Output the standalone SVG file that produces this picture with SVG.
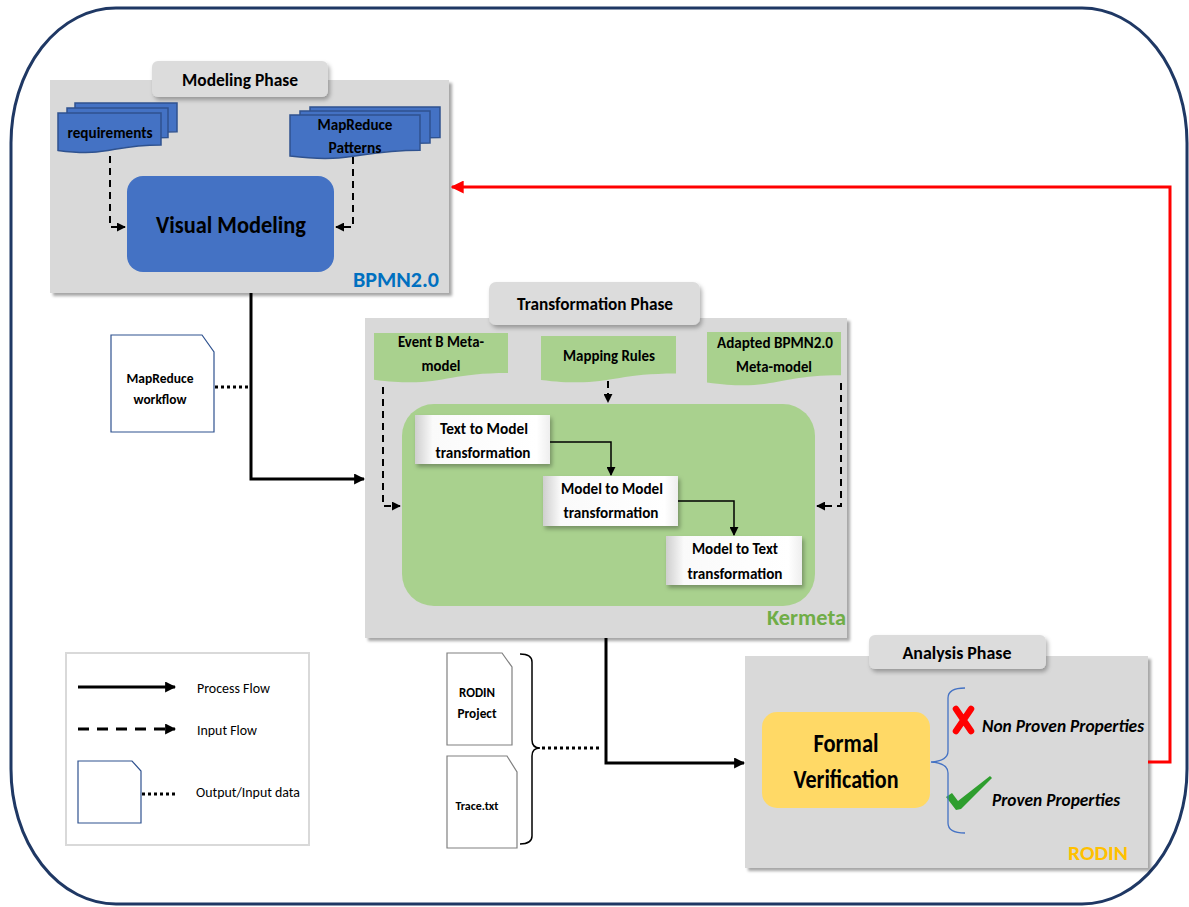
<svg xmlns="http://www.w3.org/2000/svg" width="1189" height="907" viewBox="0 0 1189 907">
<defs>
<style>
text{font-family:Carlito,"Liberation Sans",Arial,sans-serif;fill:#000}
.b{font-weight:bold}
.c{text-anchor:middle}
.phase{fill:#d9d9d9}
.tab{fill:#dcdcdc}
.proc{stroke:#000;stroke-width:3;fill:none}
.inp{stroke:#000;stroke-width:2;fill:none;stroke-dasharray:7 5}
.thin{stroke:#000;stroke-width:1.5;fill:none}
.dot{stroke:#000;stroke-width:3;fill:none;stroke-dasharray:3 3}
.bdoc{fill:#4472c4;stroke:#2f528f;stroke-width:1.5}
.gdoc{fill:#a9d18e}
.file{fill:#fff;stroke:#2f528f;stroke-width:1.2}
.gfile{fill:#fff;stroke:#808080;stroke-width:1.2}
</style>
<filter id="sh" x="-10%" y="-10%" width="120%" height="120%">
<feDropShadow dx="3" dy="3" stdDeviation="1.5" flood-color="#000" flood-opacity="0.35"/>
</filter>
<filter id="sh2" x="-10%" y="-10%" width="120%" height="130%">
<feDropShadow dx="2" dy="3" stdDeviation="2" flood-color="#000" flood-opacity="0.3"/>
</filter>
<linearGradient id="bevel" x1="0" y1="0" x2="1" y2="0">
<stop offset="0" stop-color="#cfcfcf"/>
<stop offset="0.13" stop-color="#fafafa"/>
<stop offset="0.9" stop-color="#ffffff"/>
<stop offset="1" stop-color="#eeeeee"/>
</linearGradient>
<marker id="ah" viewBox="0 0 10 10" refX="9" refY="5" markerWidth="11" markerHeight="11" markerUnits="userSpaceOnUse" orient="auto">
<path d="M0,0 L10,5 L0,10 Z" fill="#000"/>
</marker>
<marker id="ahs" viewBox="0 0 10 10" refX="9" refY="5" markerWidth="9" markerHeight="9" markerUnits="userSpaceOnUse" orient="auto">
<path d="M0,0 L10,5 L0,10 Z" fill="#000"/>
</marker>
<marker id="ahr" viewBox="0 0 10 10" refX="9" refY="5" markerWidth="13" markerHeight="13" markerUnits="userSpaceOnUse" orient="auto">
<path d="M0,0 L10,5 L0,10 Z" fill="#ff0000"/>
</marker>
</defs>

<rect x="11" y="8" width="1176" height="896" rx="105" ry="135" fill="#fff" stroke="#1f3864" stroke-width="3"/>

<!-- Modeling Phase -->
<g id="modeling-phase">
<rect class="phase" x="50" y="80" width="399" height="213" filter="url(#sh)"/>
<rect class="tab" x="152" y="61" width="176" height="36" rx="6" filter="url(#sh2)"/>
<text class="b c" x="240" y="86" font-size="19" textLength="116" lengthAdjust="spacingAndGlyphs">Modeling Phase</text>
<text class="b" x="439" y="287" font-size="22" text-anchor="end" style="fill:#0070c0" textLength="86" lengthAdjust="spacingAndGlyphs">BPMN2.0</text>
</g>

<g id="requirements">
<path class="bdoc" d="M75,103 H177 V131.8 C126,131.8 126,142.9 75,136.6 Z"/>
<path class="bdoc" d="M67,108 H168 V137.6 C117.5,137.6 117.5,149 67,142.6 Z"/>
<path class="bdoc" d="M58,113 H161 V145 C109.5,145 109.5,157.3 58,150.4 Z"/>
<text class="b c" x="110" y="138" font-size="15" textLength="85" lengthAdjust="spacingAndGlyphs">requirements</text>
</g>

<g id="mapreduce-patterns">
<path class="bdoc" d="M310,107 H440 V137.4 C375,137.4 375,149 310,142.5 Z"/>
<path class="bdoc" d="M300,111 H430 V143 C365,143 365,155.3 300,148.4 Z"/>
<path class="bdoc" d="M290,115 H420 V150.2 C355,150.2 355,163.7 290,156.1 Z"/>
<text class="b c" x="355" y="130" font-size="15" textLength="75" lengthAdjust="spacingAndGlyphs">MapReduce</text>
<text class="b c" x="355" y="153" font-size="15" textLength="53" lengthAdjust="spacingAndGlyphs">Patterns</text>
</g>

<g id="visual-modeling">
<rect x="127" y="176" width="207" height="96" rx="16" fill="#4472c4"/>
<text class="b c" x="231" y="233" font-size="25" textLength="150" lengthAdjust="spacingAndGlyphs">Visual Modeling</text>
</g>

<!-- Transformation Phase -->
<g id="transformation-phase">
<rect class="phase" x="365" y="318" width="482" height="320" filter="url(#sh)"/>
<rect class="tab" x="489" y="282" width="211" height="43" rx="7" filter="url(#sh2)"/>
<text class="b c" x="595" y="310" font-size="19" textLength="156" lengthAdjust="spacingAndGlyphs">Transformation Phase</text>
<rect x="402" y="404" width="413" height="202" rx="32" fill="#a9d18e"/>
<text class="b" x="846" y="625" font-size="23" text-anchor="end" style="fill:#70ad47" textLength="79" lengthAdjust="spacingAndGlyphs">Kermeta</text>
</g>

<g id="eventb-metamodel">
<path class="gdoc" d="M374,333 H508 V373 C441,373 441,388.4 374,379.7 Z"/>
<text class="b c" x="441" y="347" font-size="15" textLength="86" lengthAdjust="spacingAndGlyphs">Event B Meta-</text>
<text class="b c" x="441" y="371" font-size="15" textLength="39" lengthAdjust="spacingAndGlyphs">model</text>
</g>

<g id="mapping-rules">
<path class="gdoc" d="M541,336 H676 V373.6 C608.5,373.6 608.5,388 541,379.9 Z"/>
<text class="b c" x="609" y="361" font-size="15" textLength="92" lengthAdjust="spacingAndGlyphs">Mapping Rules</text>
</g>

<g id="adapted-bpmn-metamodel">
<path class="gdoc" d="M707,332 H841 V375.2 C774,375.2 774,391.8 707,382.4 Z"/>
<text class="b c" x="775" y="348" font-size="15" textLength="116" lengthAdjust="spacingAndGlyphs">Adapted BPMN2.0</text>
<text class="b c" x="774" y="372" font-size="15" textLength="76" lengthAdjust="spacingAndGlyphs">Meta-model</text>
</g>

<g id="text-to-model">
<rect x="415" y="415" width="135" height="49" fill="url(#bevel)" filter="url(#sh2)"/>
<text class="b c" x="484" y="434" font-size="15" textLength="88" lengthAdjust="spacingAndGlyphs">Text to Model</text>
<text class="b c" x="483" y="458" font-size="15" textLength="95" lengthAdjust="spacingAndGlyphs">transformation</text>
</g>

<g id="model-to-model">
<rect x="543" y="476" width="135" height="50" fill="url(#bevel)" filter="url(#sh2)"/>
<text class="b c" x="612" y="494" font-size="15" textLength="102" lengthAdjust="spacingAndGlyphs">Model to Model</text>
<text class="b c" x="611" y="518" font-size="15" textLength="95" lengthAdjust="spacingAndGlyphs">transformation</text>
</g>

<g id="model-to-text">
<rect x="666" y="536" width="136" height="49" fill="url(#bevel)" filter="url(#sh2)"/>
<text class="b c" x="735" y="554" font-size="15" textLength="86" lengthAdjust="spacingAndGlyphs">Model to Text</text>
<text class="b c" x="735" y="579" font-size="15" textLength="95" lengthAdjust="spacingAndGlyphs">transformation</text>
</g>

<!-- MapReduce workflow -->
<g id="mapreduce-workflow">
<path class="file" d="M111,335 H202 L214,352 V432 H111 Z"/>
<text class="b c" x="160" y="383" font-size="13" textLength="67" lengthAdjust="spacingAndGlyphs">MapReduce</text>
<text class="b c" x="160" y="404" font-size="13" textLength="53" lengthAdjust="spacingAndGlyphs">workflow</text>
</g>

<!-- Legend -->
<g id="legend">
<rect x="66" y="653" width="243" height="192" fill="none" stroke="#d9d9d9" stroke-width="2"/>
<line class="proc" x1="78" y1="687" x2="175" y2="687" marker-end="url(#ah)"/>
<text x="197" y="693" font-size="14" textLength="73" lengthAdjust="spacingAndGlyphs">Process Flow</text>
<line class="proc" x1="78" y1="729" x2="175" y2="729" stroke-dasharray="11 8" marker-end="url(#ah)"/>
<text x="197" y="735" font-size="14" textLength="60" lengthAdjust="spacingAndGlyphs">Input Flow</text>
<path class="file" d="M78,761 H132 L141,771 V823 H78 Z"/>
<line class="dot" x1="142" y1="794" x2="176" y2="794"/>
<text x="196" y="797" font-size="14" textLength="104" lengthAdjust="spacingAndGlyphs">Output/Input data</text>
</g>

<!-- RODIN outputs -->
<g id="rodin-project">
<path class="gfile" d="M447,653 H502 L512,667 V745 H447 Z"/>
<text class="b c" x="477" y="697" font-size="13" textLength="36" lengthAdjust="spacingAndGlyphs">RODIN</text>
<text class="b c" x="477" y="718" font-size="13" textLength="39" lengthAdjust="spacingAndGlyphs">Project</text>
</g>
<g id="trace-txt">
<path class="gfile" d="M447,756 H507 L517,772 V848 H447 Z"/>
<text class="b c" x="477" y="810" font-size="12" textLength="43" lengthAdjust="spacingAndGlyphs">Trace.txt</text>
</g>

<!-- Analysis Phase -->
<g id="analysis-phase">
<rect class="phase" x="745" y="656" width="403" height="212" filter="url(#sh)"/>
<rect class="tab" x="869" y="635" width="177" height="34" rx="6" filter="url(#sh2)"/>
<text class="b c" x="957" y="659" font-size="18" textLength="109" lengthAdjust="spacingAndGlyphs">Analysis Phase</text>
<text class="b" x="1128" y="860" font-size="21" text-anchor="end" style="fill:#ffc000" textLength="60" lengthAdjust="spacingAndGlyphs">RODIN</text>
</g>

<g id="formal-verification">
<rect x="762" y="712" width="168" height="96" rx="15" fill="#ffd966"/>
<text class="b c" x="846" y="752" font-size="26" textLength="65" lengthAdjust="spacingAndGlyphs">Formal</text>
<text class="b c" x="846" y="788" font-size="26" textLength="105" lengthAdjust="spacingAndGlyphs">Verification</text>
</g>

<g id="non-proven-properties">
<path d="M956,709 L971,731 M971,709 L956,731" stroke="#ff0000" stroke-width="6.5" stroke-linecap="round" fill="none"/>
<text class="b" x="982" y="732" font-size="18" font-style="italic" textLength="162" lengthAdjust="spacingAndGlyphs">Non Proven Properties</text>
</g>

<g id="proven-properties">
<path d="M946,797 L952,793 L958,801 L990,776 L992,778 L961,809 L956,810 Z" fill="#2e9e2e"/>
<text class="b" x="992" y="806" font-size="18" font-style="italic" textLength="128" lengthAdjust="spacingAndGlyphs">Proven Properties</text>
</g>

<!-- Connectors -->
<g id="connectors">
<polyline class="inp" points="110,156 110,227 125,227" marker-end="url(#ahs)"/>
<polyline class="inp" points="353,157 353,227 336,227" marker-end="url(#ahs)"/>
<polyline class="proc" points="251,293 251,479 364,479" marker-end="url(#ah)"/>
<line class="dot" x1="215" y1="387" x2="249" y2="387"/>
<polyline class="inp" points="383,387 383,506 400,506" marker-end="url(#ahs)"/>
<polyline class="inp" points="841,383 841,506 817,506" marker-end="url(#ahs)"/>
<line class="inp" x1="608" y1="381" x2="608" y2="402" marker-end="url(#ahs)"/>
<polyline class="thin" points="550,442 611,442 611,475" marker-end="url(#ahs)"/>
<polyline class="thin" points="678,501 734,501 734,535" marker-end="url(#ahs)"/>
<polyline class="proc" points="606,638 606,763 744,763" marker-end="url(#ah)"/>
<path class="thin" d="M520,654 Q532,654 532,662 V740 Q532,748 540,748 Q532,748 532,756 V836 Q532,844 520,844"/>
<line class="dot" x1="542" y1="748" x2="602" y2="748"/>
<path d="M965,688 Q948,688 948,698 V751 Q948,761 931,762 Q948,763 948,773 V823 Q948,833 965,833" stroke="#4472c4" stroke-width="1.3" fill="none"/>
<polyline points="1148,762 1170,762 1170,187 452,187" stroke="#ff0000" stroke-width="3" fill="none" marker-end="url(#ahr)"/>
</g>
</svg>
